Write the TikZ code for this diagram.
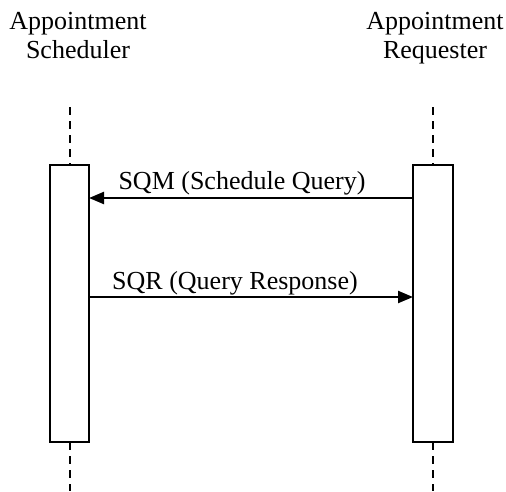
\documentclass[tikz,border=0pt]{standalone}
\usepackage{fontspec}
\setmainfont{Liberation Serif}
\usetikzlibrary{arrows.meta}
\begin{document}
\begin{tikzpicture}[x=1pt,y=-1pt,
  lifeline/.style={line width=2pt, dash pattern=on 8pt off 6pt},
  actbox/.style={draw, line width=1.8pt, fill=white, minimum height=277pt, inner sep=0pt, outer sep=0pt},
  msg/.style={line width=2.3pt, -{Triangle[length=15pt,width=12pt]}},
  lbl/.style={font=\fontsize{26}{29}\selectfont, inner sep=0pt, anchor=base},
  title/.style={font=\fontsize{26}{28.5}\selectfont, align=center, inner sep=0pt, anchor=north}]
\useasboundingbox (0,0) rectangle (506,491);
% titles
\node[title] (t1) at (78,12.5) {Appointment\\Scheduler};
\node[title] (t2) at (435,12.5) {Appointment\\Requester};
% activation boxes
\node[actbox, minimum width=39pt] (b1) at (69.5,303.5) {};
\node[actbox, minimum width=40pt] (b2) at (433,303.5) {};
% lifelines
\coordinate (l1top) at (69.5,107);
\coordinate (l1bot) at (69.5,491);
\coordinate (l2top) at (433,107);
\coordinate (l2bot) at (433,491);
\draw[lifeline] (l1top) -- (b1.north);
\draw[lifeline] (b1.south) -- (l1bot);
\draw[lifeline] (l2top) -- (b2.north);
\draw[lifeline] (b2.south) -- (l2bot);
% messages
\coordinate (m1) at (0,198);
\coordinate (m2) at (0,297);
\draw[msg] (b2.west |- m1) -- (b1.east |- m1);
\draw[msg] (b1.east |- m2) -- (b2.west |- m2);
\node[lbl] (s1) at (242,189) {SQM (Schedule Query)};
\node[lbl] (s2) at (235,289) {SQR (Query Response)};
\end{tikzpicture}
\end{document}
